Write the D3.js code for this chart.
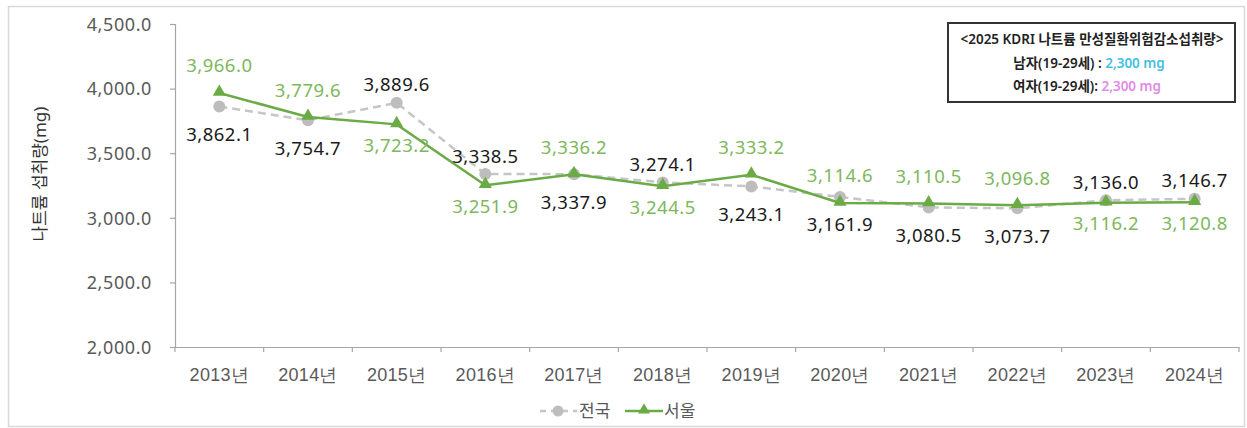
<!DOCTYPE html>
<html>
<head>
<meta charset="utf-8">
<script src="https://cdn.jsdelivr.net/npm/d3@7"></script>
<style>
  html, body { margin: 0; padding: 0; background: #fff; }
  svg { display: block; font-family: "Noto Sans", "Noto Sans CJK KR", sans-serif; }
</style>
</head>
<body>
<svg id="chart" width="1247" height="428"></svg>
<script>
// Sodium intake (mg), 2013–2024
const years = ["2013년","2014년","2015년","2016년","2017년","2018년","2019년","2020년","2021년","2022년","2023년","2024년"];
const national = [3862.1, 3754.7, 3889.6, 3338.5, 3337.9, 3274.1, 3243.1, 3161.9, 3080.5, 3073.7, 3136.0, 3146.7];
const seoul    = [3966.0, 3779.6, 3723.2, 3251.9, 3336.2, 3244.5, 3333.2, 3114.6, 3110.5, 3096.8, 3116.2, 3120.8];
// which side of its point each value label sits on
const nationalLabelSide = ["below","below","above","above","below","above","below","below","below","below","above","above"];
const seoulLabelSide    = ["above","above","below","below","above","below","above","above","above","above","below","below"];
const yTicks = [2000, 2500, 3000, 3500, 4000, 4500];
const seriesNames = ["전국", "서울"];
const noteTitle = "<2025 KDRI 나트륨 만성질환위험감소섭취량>";
const noteMale = ["남자(19-29세) : ", "2,300 mg"];
const noteFemale = ["여자(19-29세): ", "2,300 mg"];

const svg = d3.select("#chart");
const plot = { left: 175, right: 1239, top: 24, bottom: 347 };

// outer frame
svg.append("rect")
  .attr("x", 8.5).attr("y", 6.5).attr("width", 1236).attr("height", 420)
  .attr("fill", "#fff").attr("stroke", "#d9d9d9").attr("stroke-width", 1.5);

const x = d3.scaleBand().domain(years).range([plot.left, plot.right]).padding(0);
const y = d3.scaleLinear().domain([2000, 4500]).range([plot.bottom, plot.top]);
const cx = d => x(d) + x.bandwidth() / 2;

const axisColor = "#a6a6a6";
const tickText = "#595959";

// y axis
const yAxis = svg.append("g")
  .attr("transform", `translate(${plot.left},0)`)
  .call(d3.axisLeft(y).tickValues(yTicks).tickSize(5).tickPadding(18)
    .tickFormat(d3.format(",.1f")));
yAxis.select(".domain").attr("stroke", axisColor).attr("stroke-width", 1.2);
yAxis.selectAll(".tick line").attr("stroke", axisColor).attr("stroke-width", 1.2);
yAxis.selectAll(".tick text")
  .attr("fill", tickText).style("font-size", "18px").style("letter-spacing", "0.6px")
  .style("font-family", "'Noto Sans', sans-serif").attr("dy", "0.35em");

// x axis: labels centred in bands, ticks on band boundaries
const xAxis = svg.append("g")
  .attr("transform", `translate(0,${plot.bottom})`)
  .call(d3.axisBottom(x).tickSize(0).tickPadding(21));
xAxis.select(".domain").attr("stroke", axisColor).attr("stroke-width", 1.2);
xAxis.selectAll(".tick text")
  .attr("fill", tickText).style("font-size", "18px").style("letter-spacing", "0.3px");
xAxis.selectAll("line.boundary")
  .data(d3.range(years.length + 1))
  .join("line").attr("class", "boundary")
  .attr("x1", i => plot.left + i * x.step()).attr("x2", i => plot.left + i * x.step())
  .attr("y1", 0).attr("y2", 5)
  .attr("stroke", axisColor).attr("stroke-width", 1.2);

// y axis title
svg.append("text")
  .attr("transform", `translate(40,174) rotate(-90)`)
  .attr("text-anchor", "middle").attr("dy", "0.35em")
  .attr("fill", "#333").style("font-size", "17px")
  .text("나트륨 섭취량(mg)");

const grayLine = "#c6c6c6", grayDot = "#bdbdbd";
const green = "#6aab45", greenLabel = "#7db85c";

const line = d3.line().x((d, i) => cx(years[i])).y(d => y(d));

// national (dashed gray, circles)
svg.append("path").datum(national)
  .attr("d", line).attr("fill", "none")
  .attr("stroke", grayLine).attr("stroke-width", 2.5).attr("stroke-dasharray", "8,5");
svg.selectAll("circle.nat").data(national).join("circle")
  .attr("class", "nat")
  .attr("cx", (d, i) => cx(years[i])).attr("cy", d => y(d)).attr("r", 6)
  .attr("fill", grayDot);

// Seoul (solid green, triangles)
svg.append("path").datum(seoul)
  .attr("d", line).attr("fill", "none")
  .attr("stroke", green).attr("stroke-width", 2.5);
const tri = d3.symbol().type(d3.symbolTriangle).size(75);
svg.selectAll("path.seo").data(seoul).join("path")
  .attr("class", "seo")
  .attr("d", tri)
  .attr("transform", (d, i) => `translate(${cx(years[i])},${y(d) - 1})`)
  .attr("fill", green);

// value labels
const fmt = d3.format(",.1f");
function labels(data, sides, color, upOff, downOff, cls) {
  svg.selectAll("text." + cls).data(data).join("text")
    .attr("class", cls)
    .attr("x", (d, i) => cx(years[i]))
    .attr("y", (d, i) => y(d) + (sides[i] === "above" ? upOff : downOff))
    .attr("dy", "0.35em")
    .attr("text-anchor", "middle")
    .attr("fill", color)
    .style("font-size", "18.5px")
    .style("letter-spacing", "0.5px")
    .text(d => fmt(d));
}
labels(national, nationalLabelSide, "#1a1a1a", -18, 28, "lab-nat");
labels(seoul, seoulLabelSide, greenLabel, -27, 21, "lab-seo");

// legend
const lg = svg.append("g").attr("transform", "translate(0,411)");
lg.append("line").attr("x1", 540).attr("x2", 577).attr("y1", 0).attr("y2", 0)
  .attr("stroke", grayLine).attr("stroke-width", 2.5).attr("stroke-dasharray", "6,5");
lg.append("circle").attr("cx", 558).attr("cy", 0).attr("r", 5.5).attr("fill", grayDot);
lg.append("text").attr("x", 579).attr("y", 0).attr("dy", "0.35em")
  .attr("fill", tickText).style("font-size", "17px").text(seriesNames[0]);
lg.append("line").attr("x1", 625).attr("x2", 663).attr("y1", 0).attr("y2", 0)
  .attr("stroke", green).attr("stroke-width", 2.5);
lg.append("path").attr("d", d3.symbol().type(d3.symbolTriangle).size(60))
  .attr("transform", "translate(644,-1)").attr("fill", green);
lg.append("text").attr("x", 664).attr("y", 0).attr("dy", "0.35em")
  .attr("fill", tickText).style("font-size", "17px").text(seriesNames[1]);

// reference-intake note box
const nb = svg.append("g");
nb.append("rect").attr("x", 948).attr("y", 23).attr("width", 287).attr("height", 79)
  .attr("fill", "#fff").attr("stroke", "#333").attr("stroke-width", 2);
const noteX = 1092;
nb.append("text").attr("x", noteX).attr("y", 39).attr("dy", "0.35em")
  .attr("text-anchor", "middle").attr("fill", "#222")
  .style("font-size", "13.5px").style("font-weight", 600).text(noteTitle);
const m = nb.append("text").attr("x", noteX - 3).attr("y", 63).attr("dy", "0.35em")
  .attr("text-anchor", "middle").attr("fill", "#222")
  .style("font-size", "13.5px").style("font-weight", 600);
m.append("tspan").text(noteMale[0]);
m.append("tspan").attr("fill", "#45c0e0").text(noteMale[1]);
const f = nb.append("text").attr("x", noteX - 5).attr("y", 86).attr("dy", "0.35em")
  .attr("text-anchor", "middle").attr("fill", "#222")
  .style("font-size", "13.5px").style("font-weight", 600);
f.append("tspan").text(noteFemale[0]);
f.append("tspan").attr("fill", "#e08be6").text(noteFemale[1]);
</script>
</body>
</html>
